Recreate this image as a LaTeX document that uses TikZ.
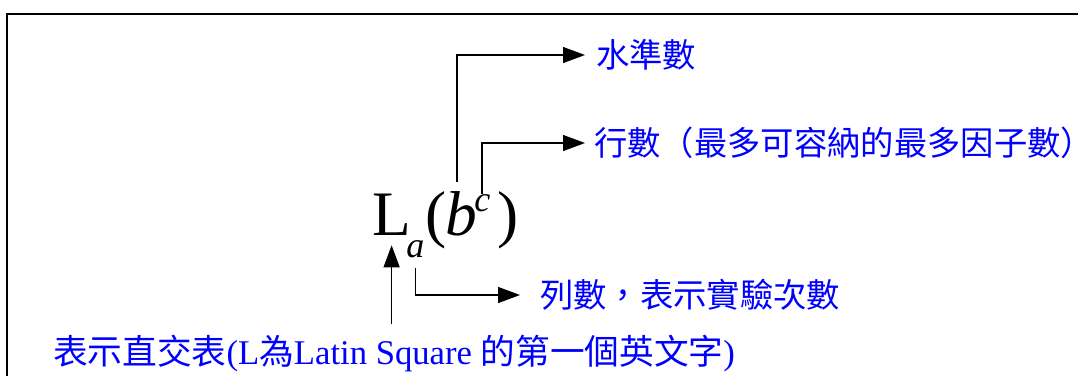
\documentclass[tikz,border=0pt]{standalone}
\usepackage{fontspec}
\setmainfont{Liberation Serif}
\newfontfamily\cjk{Noto Sans CJK TC}
\usetikzlibrary{arrows.meta}
\begin{document}
\begin{tikzpicture}[x=0.75pt,y=-0.75pt,
  arr/.style={-{Triangle[length=16.5pt,width=12pt]}, line width=0.9pt},
  note/.style={text=blue, inner sep=0pt, anchor=west, font=\cjk\fontsize{25}{30}\selectfont},
  sym/.style={inner sep=0pt, anchor=base west}]
\useasboundingbox (0,0) rectangle (1078,376);
\draw[line width=2pt] (7,376) -- (7,14) -- (1078,14);
% the symbol L_a(b^c)
\node[sym, font=\fontsize{47.5}{50}\selectfont] (L) at (372,235) {L};
\node[sym, font=\fontsize{27}{27}\selectfont\itshape] (sub) at (406,257) {a};
\node[sym, font=\fontsize{47.5}{50}\selectfont] (lpar) at (425,235) {(};
\node[sym, font=\fontsize{47.5}{50}\selectfont\itshape] (b) at (445,235) {b};
\node[sym, font=\fontsize{27}{27}\selectfont\itshape] (sup) at (474,211) {c};
\node[sym, font=\fontsize{47.5}{50}\selectfont] (rpar) at (497,235) {)};
\coordinate (btop) at (457,182);
\coordinate (ctop) at (482,194);
% labels
\node[note] (lvl) at (596,55) {水準數};
\node[note] (col) at (594,143) {行數（最多可容納的最多因子數）};
\node[note] (row) at (540,295) {列數，表示實驗次數};
\node[note, font=\fontsize{26}{30}\selectfont] (ortho) at (53,353)
  {{\cjk 表示直交表}(L{\cjk 為}Latin Square {\cjk 的第一個英文字})};
% connectors
\draw[arr] (btop) |- ([xshift=-8.25pt]lvl.west);
\draw[arr] (ctop) |- ([xshift=-6.75pt]col.west);
\draw[arr, shorten <=8pt] (sub.south) |- ([xshift=-15pt]row.west);
\draw[arr, shorten <=7.5pt, shorten >=7.5pt] (ortho.north -| L.south) -- (L.south);
\end{tikzpicture}
\end{document}
